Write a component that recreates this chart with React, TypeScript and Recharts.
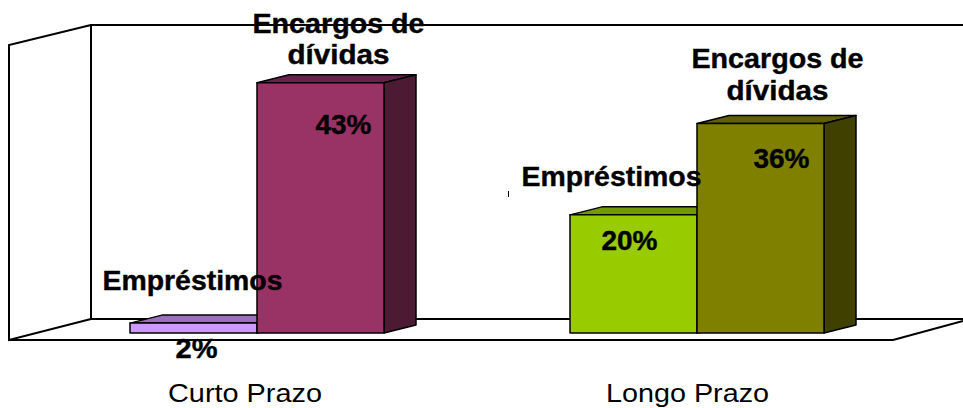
import React from 'react';
import { Bar, BarChart, Customized, LabelList, XAxis, YAxis } from 'recharts';

const categories = ['Curto Prazo', 'Longo Prazo'];
const emprestimos = [1.7, 20.3];
const encargos = [43, 36];

const chartData = categories.map((name, i) => ({
    name,
    emprestimos: emprestimos[i],
    encargos: encargos[i],
}));

const FONT = '"Liberation Sans", Arial, sans-serif';
const DEPTH_X = 32;
const DEPTH_Y = 8;

// front, top and side colour of each bar, per category
const emprestimosFaces = [
    ['#CC99FF', '#9A70BE', '#66507F'],
    ['#99CC00', '#729900', '#4D6600'],
];
const encargosFaces = [
    ['#993366', '#66224A', '#4D1A33'],
    ['#808000', '#606000', '#404000'],
];

// label offsets from the bar's top centre, the source chart had them hand placed
const emprestimosNameOffset = [[-1, -33], [-22, -29]];
const emprestimosValueOffset = [[3, 35], [-4, 35]];
const encargosNameOffset = [[18, -50], [17, -55]];
const encargosValueOffset = [[23, 51], [21, 44.5]];
const tickOffset = [-12, -9.5];

function Frame() {
    return (
        <g fill="none" stroke="#000" strokeWidth={2}>
            <path d="M963 25H91V319H963" />
            <path d="M91 25L9 45V340L91 319" />
            <path d="M9 340H893L963 321" />
            <path d="M508.5 191V197" strokeWidth={1} />
        </g>
    );
}

function Bar3D(props: any, faces: string[][]) {
    const { x, y, width, height, index } = props;
    const [front, top, side] = faces[index];
    return (
        <g stroke="#000" strokeWidth={1.5} strokeLinejoin="round">
            <path
                d={`M${x} ${y}l${DEPTH_X} ${-DEPTH_Y}h${width}l${-DEPTH_X} ${DEPTH_Y}z`}
                fill={top}
            />
            <path
                d={`M${x + width} ${y}l${DEPTH_X} ${-DEPTH_Y}v${height}l${-DEPTH_X} ${DEPTH_Y}z`}
                fill={side}
            />
            <rect x={x} y={y} width={width} height={height} fill={front} />
        </g>
    );
}

function BoldText({ x, y, width, children }: any) {
    return (
        <text
            x={x}
            y={y}
            textAnchor="middle"
            textLength={width}
            lengthAdjust="spacingAndGlyphs"
            fontFamily={FONT}
            fontWeight="bold"
            fontSize={27}
            fill="#000"
            stroke="#000"
            strokeWidth={0.4}
        >
            {children}
        </text>
    );
}

const renderName = (lines: [string, number][], offsets: number[][]) => (props: any) => {
    const { x, y, width, index } = props;
    const cx = x + width / 2 + offsets[index][0];
    const base = y + offsets[index][1];
    return (
        <g>
            {lines.map(([line, w], i) => (
                <BoldText key={line} x={cx} y={base + i * 31.5} width={w}>{line}</BoldText>
            ))}
        </g>
    );
};

const renderValue = (offsets: number[][]) => (props: any) => {
    const { x, y, width, index, value } = props;
    return (
        <BoldText
            x={x + width / 2 + offsets[index][0]}
            y={y + offsets[index][1]}
            width={value < 10 ? 42 : 56}
        >
            {`${Math.round(value)}%`}
        </BoldText>
    );
};

function CategoryTick({ x, y, payload, index }: any) {
    return (
        <text
            x={x + tickOffset[index]}
            y={y}
            textAnchor="middle"
            textLength={index === 0 ? 154 : 163}
            lengthAdjust="spacingAndGlyphs"
            fontFamily={FONT}
            fontSize={26}
            fill="#000"
        >
            {payload.value}
        </text>
    );
}

export default function App() {
    return (
        <div style={{ position: 'absolute', left: 0, top: 0, width: 963, height: 408, background: '#fff' }}>
            <BarChart
                width={963}
                height={408}
                data={chartData}
                barGap={0}
                barCategoryGap={93}
                margin={{ top: 42, right: 46, bottom: 30, left: 37 }}
            >
                <Customized component={<Frame />} />
                <XAxis
                    dataKey="name"
                    axisLine={false}
                    tickLine={false}
                    height={45}
                    tickMargin={0}
                    interval={0}
                    tick={(p: any) => <CategoryTick {...p} y={402} />}
                />
                <YAxis hide domain={[0, 50]} />
                <Bar
                    dataKey="emprestimos"
                    isAnimationActive={false}
                    shape={(p: any) => Bar3D(p, emprestimosFaces)}
                >
                    <LabelList
                        dataKey="emprestimos"
                        content={renderName([['Empréstimos', 180]], emprestimosNameOffset)}
                    />
                    <LabelList dataKey="emprestimos" content={renderValue(emprestimosValueOffset)} />
                </Bar>
                <Bar
                    dataKey="encargos"
                    isAnimationActive={false}
                    shape={(p: any) => Bar3D(p, encargosFaces)}
                >
                    <LabelList
                        dataKey="encargos"
                        content={renderName([['Encargos de', 172], ['dívidas', 102]], encargosNameOffset)}
                    />
                    <LabelList dataKey="encargos" content={renderValue(encargosValueOffset)} />
                </Bar>
            </BarChart>
        </div>
    );
}
